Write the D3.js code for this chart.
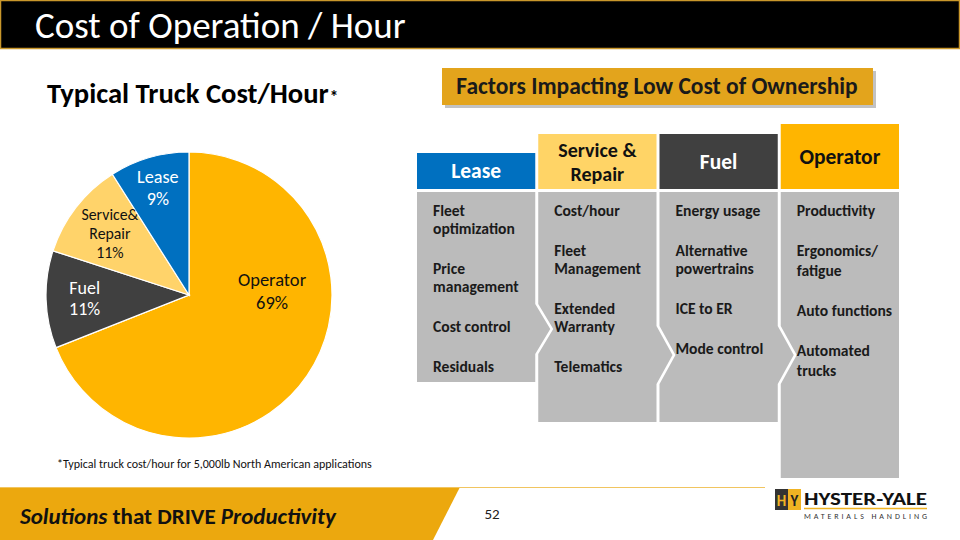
<!DOCTYPE html>
<html><head><meta charset="utf-8">
<script src="https://cdn.jsdelivr.net/npm/d3@7"></script>
<style>
html,body{margin:0;padding:0;background:#fff;}
svg{display:block;font-family:Carlito, Calibri, Lato, "Open Sans", sans-serif;}
</style></head>
<body>
<svg id="chart" width="960" height="540"></svg>
<script>
// ---------- data ----------
const sliceNames = ["Operator", "Fuel", "Service&\nRepair", "Lease"];
const sliceValues = [69, 11, 11, 9];
const sliceColors = ["#FFB500", "#404040", "#FFD36A", "#0070C0"];
const sliceTextColors = ["#111", "#fff", "#111", "#fff"];

const factorHeaders = ["Lease", "Service &\nRepair", "Fuel", "Operator"];
const factorHeaderColors = ["#0070C0", "#FFD466", "#404040", "#FFB500"];
const factorHeaderText = ["#fff", "#111", "#fff", "#111"];
const factorItems = [
  [["Fleet", "optimization"], ["Price", "management"], ["Cost control"], ["Residuals"]],
  [["Cost/hour"], ["Fleet", "Management"], ["Extended", "Warranty"], ["Telematics"]],
  [["Energy usage"], ["Alternative", "powertrains"], ["ICE to ER"], ["Mode control"]],
  [["Productivity"], ["Ergonomics/", "fatigue"], ["Auto functions"], ["Automated", "trucks"]]
];

const pageTitle = "Cost of Operation / Hour";
const chartTitle = "Typical Truck Cost/Hour";
const factorsTitle = "Factors Impacting Low Cost of Ownership";
const footnote = "*Typical truck cost/hour for 5,000lb North American applications";
const pageNumber = "52";

// ---------- drawing ----------
const svg = d3.select("#chart");

// title bar
svg.append("rect").attr("x", 0.5).attr("y", 0.5).attr("width", 959).attr("height", 48)
  .attr("fill", "#000").attr("stroke", "#C9972B").attr("stroke-width", 1.5);
svg.append("text").attr("x", 35).attr("y", 38).attr("fill", "#fff")
  .attr("font-size", 37).text(pageTitle);

// chart title
const ct = svg.append("text").attr("x", 47).attr("y", 103).attr("fill", "#000")
  .attr("font-size", 28.6).attr("font-weight", "bold");
ct.append("tspan").text(chartTitle);
ct.append("tspan").attr("font-size", 17).attr("dx", 1).text("*");

// pie
const cx = 189, cy = 295, R = 143;
const pie = d3.pie().sort(null).value(d => d.v);
const arcs = pie(sliceValues.map((v, i) => ({v, i})));
const arc = d3.arc().innerRadius(0).outerRadius(R);
const gPie = svg.append("g").attr("transform", `translate(${cx},${cy})`);
gPie.selectAll("path").data(arcs).join("path")
  .attr("d", arc).attr("fill", d => sliceColors[d.data.i])
  .attr("stroke", "#fff").attr("stroke-width", 1.2);

// label placement (layout only): radius fraction for centroid-based labels
const labelRadius = [0.0, 0.73, 0.70, 0.78];
const labelSize = [18.5, 18, 15.8, 18.2];
arcs.forEach(d => {
  const i = d.data.i;
  let x, y;
  if (i === 0) { x = 83; y = -4; } // best-fit position used by the original
  else {
    const a = (d.startAngle + d.endAngle) / 2;
    const r = R * labelRadius[i];
    x = r * Math.sin(a); y = -r * Math.cos(a);
  }
  const lines = sliceNames[i].split("\n").concat([d.data.v + "%"]);
  const lh = labelSize[i] * 1.2;
  const t = gPie.append("text").attr("text-anchor", "middle")
    .attr("fill", sliceTextColors[i]).attr("font-size", labelSize[i]);
  lines.forEach((ln, k) => {
    t.append("tspan").attr("x", x)
      .attr("y", y + (k - (lines.length - 1) / 2) * lh + labelSize[i] * 0.35)
      .text(ln);
  });
});

// footnote
svg.append("text").attr("x", 57).attr("y", 468).attr("font-size", 12)
  .attr("fill", "#111").text(footnote);

// factors title box
svg.append("rect").attr("x", 445).attr("y", 71).attr("width", 431).attr("height", 37)
  .attr("fill", "#9a9a9a").attr("opacity", 0.6);
svg.append("rect").attr("x", 442).attr("y", 68).attr("width", 431).attr("height", 37)
  .attr("fill", "#E3A41C");
svg.append("text").attr("x", 657).attr("y", 94).attr("text-anchor", "middle")
  .attr("font-size", 23.5).attr("font-weight", "bold").attr("fill", "#1a1a1a").text(factorsTitle);

// columns
const xCol = d3.scaleBand().domain(d3.range(4)).range([417, 899]).paddingInner(0.0247);
const bw = xCol.bandwidth();
const headerTop = [153, 134, 134, 124];
const headerBottom = 189;
const bodyTop = 192;
const bodyBottom = [382, 422, 422, 478];
const chevMid = [329, 355, 355];
const chevHalf = [25, 29, 29];
const chevDepth = [15, 16, 16];

factorHeaders.forEach((h, i) => {
  const x0 = xCol(i);
  svg.append("rect").attr("x", x0).attr("y", headerTop[i]).attr("width", bw)
    .attr("height", headerBottom - headerTop[i]).attr("fill", factorHeaderColors[i]);
  const lines = h.split("\n");
  const mid = (headerTop[i] + headerBottom) / 2;
  const fs = lines.length > 1 ? 20 : 21.5;
  lines.forEach((ln, k) => {
    svg.append("text").attr("text-anchor", "middle").attr("font-weight", "bold")
      .attr("font-size", fs).attr("fill", factorHeaderText[i])
      .attr("x", x0 + bw / 2)
      .attr("y", mid + (k - (lines.length - 1) / 2) * 24 + 7).text(ln);
  });
});

factorItems.forEach((items, i) => {
  const x0 = xCol(i), x1 = x0 + bw;
  const b = bodyBottom[i];
  const p = d3.path();
  p.moveTo(x0, bodyTop);
  p.lineTo(x1, bodyTop);
  if (i < 3) {
    p.lineTo(x1, chevMid[i] - chevHalf[i]);
    p.lineTo(x1 + chevDepth[i], chevMid[i]);
    p.lineTo(x1, chevMid[i] + chevHalf[i]);
  }
  p.lineTo(x1, b);
  p.lineTo(x0, b);
  if (i > 0) {
    const j = i - 1;
    p.lineTo(x0, chevMid[j] + chevHalf[j]);
    p.lineTo(x0 + chevDepth[j], chevMid[j]);
    p.lineTo(x0, chevMid[j] - chevHalf[j]);
  }
  p.closePath();
  svg.append("path").attr("d", p.toString()).attr("fill", "#BBBBBB");

  const lh = i === 3 ? 20 : 18;
  let y = 216;
  const t = svg.append("text").attr("font-weight", "bold").attr("font-size", 15.6).attr("fill", "#1a1a1a");
  items.forEach((lines, k) => {
    if (k > 0) y += 40;
    lines.forEach((ln, m) => {
      if (m > 0) y += lh;
      t.append("tspan").attr("x", x0 + 16).attr("y", y).text(ln);
    });
  });
});

// footer band
svg.append("path").attr("d", "M0,487 L460,487 L433,540 L0,540 Z").attr("fill", "#ECA80E");
svg.append("line").attr("x1", 0).attr("x2", 765).attr("y1", 487.5).attr("y2", 487.5)
  .attr("stroke", "#F1C560").attr("stroke-width", 1);
const ft = svg.append("text").attr("x", 20).attr("y", 524).attr("font-size", 23)
  .attr("font-weight", "bold").attr("fill", "#111");
ft.append("tspan").attr("font-style", "italic").text("Solutions");
ft.append("tspan").text(" that DRIVE ");
ft.append("tspan").attr("font-style", "italic").text("Productivity");

svg.append("text").attr("x", 492).attr("y", 519).attr("text-anchor", "middle")
  .attr("font-size", 15).attr("fill", "#222").text(pageNumber);

// logo
const lg = svg.append("g");
lg.append("rect").attr("x", 775).attr("y", 489).attr("width", 26).attr("height", 21).attr("fill", "#333");
lg.append("rect").attr("x", 788).attr("y", 489).attr("width", 13).attr("height", 21).attr("fill", "#F0B323");
lg.append("text").attr("x", 781.5).attr("y", 506).attr("text-anchor", "middle").attr("font-size", 15)
  .attr("font-weight", "bold").attr("fill", "#F0B323").text("H");
lg.append("text").attr("x", 794.5).attr("y", 506).attr("text-anchor", "middle").attr("font-size", 15)
  .attr("font-weight", "bold").attr("fill", "#222").text("Y");
lg.append("text").attr("x", 804).attr("y", 505).attr("font-size", 19).attr("font-weight", "bold")
  .attr("fill", "#111").attr("textLength", 123).attr("lengthAdjust", "spacingAndGlyphs").text("HYSTER-YALE");
lg.append("line").attr("x1", 804).attr("x2", 927).attr("y1", 508.5).attr("y2", 508.5)
  .attr("stroke", "#F0B323").attr("stroke-width", 1.5);
lg.append("text").attr("x", 804).attr("y", 519).attr("font-size", 8).attr("fill", "#333")
  .attr("textLength", 123).attr("lengthAdjust", "spacing").text("MATERIALS HANDLING");
</script>
</body></html>
